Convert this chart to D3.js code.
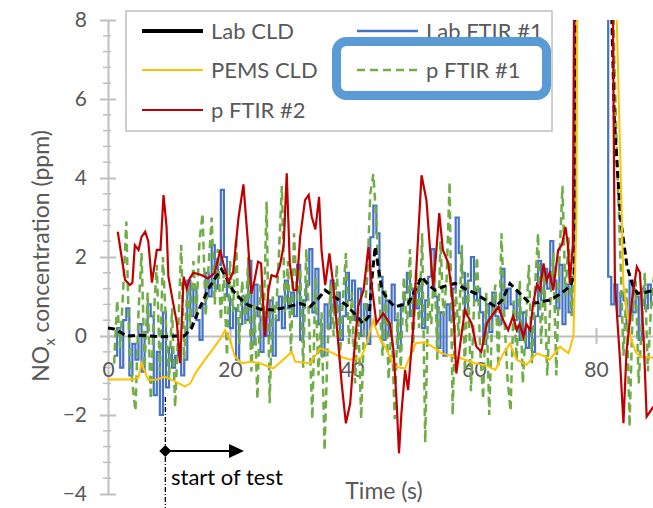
<!DOCTYPE html>
<html><head><meta charset="utf-8">
<script src="https://cdn.jsdelivr.net/npm/d3@7"></script>
<style>
html,body{margin:0;padding:0;background:#fff;}
svg{display:block;font-family:Lato,"Open Sans",sans-serif;}
</style></head>
<body><svg id="c" width="653" height="508"></svg>
<script>
// ---- data ----
const seriesNames = ["Lab CLD", "Lab FTIR #1", "PEMS CLD", "p FTIR #1", "p FTIR #2"];
const xTicks = [0, 20, 40, 60, 80];
const yTicks = [-4, -2, 0, 2, 4, 6, 8];

// Lab CLD (time, value)
const labCldTime = [0,1,2,3,5,7,9,11,12.5,13.7,15,16.5,17.5,18.6,19.5,20.5,21.9,23,25,27.1,29,31.5,33.1,34.5,35.6,37,39.1,40.5,41.8,42.8,43.3,43.8,44.9,46,47,49.2,50.5,51.4,52.5,53.6,55,56.9,58.5,60.2,62,63.5,64.6,65.9,67.5,69.2,70.5,72.4,74,75.7,76.4,76.9,82.2,82.6,83,84,85.1,86,86.8,88,89.5];
const labCldValues = [0.2,0.18,0.1,0.0,0.02,0.0,-0.02,0.0,0.0,0.2,0.7,1.2,1.45,1.69,1.45,1.15,0.91,0.78,0.68,0.66,0.72,0.82,0.74,0.95,1.16,1.0,0.78,0.55,0.32,0.5,1.5,2.26,1.16,0.9,0.74,0.82,1.2,1.5,1.3,1.16,1.25,1.33,1.2,1.08,0.9,0.74,0.91,1.33,1.08,0.82,0.85,0.91,1.05,1.25,1.5,20,20,8,5.5,3.0,1.75,1.3,1.08,1.1,1.16];

// PEMS CLD (time, value)
const pemsTime = [0,2,4,5,5.5,6.6,8,9.3,11,12.6,13.5,14.5,15.9,17.5,18.5,19.2,20,20.8,21.9,23.5,24.9,27.1,29.3,30.1,30.7,33.1,34.8,36.4,38,39.7,41.5,42.4,43.5,43.8,44.5,45.4,47,48.7,50.4,51.9,53.5,54.7,58,60.2,62,63.5,64.8,65.9,67,68.6,70.3,71.4,72.4,74.1,75.5,76.3,76.8,77.2,82.8,83.4,84.5,85.6,86.5,87.2,89.5];
const pemsValues = [-1.1,-1.1,-1.1,-1.05,-0.69,-1.11,-1.1,-1.03,-1.15,-1.28,-1.2,-0.9,-0.6,-0.27,-0.05,0.15,-0.1,-0.52,-0.69,-0.65,-0.69,-0.82,-0.52,-0.4,-0.65,-0.69,-0.31,-0.4,-0.52,-0.6,-0.55,-0.19,0.4,0.24,-0.05,-0.27,-0.78,-0.82,-0.19,-0.15,-0.3,-0.44,-0.57,-0.69,-0.75,-0.86,-0.44,-0.19,-0.6,-0.73,-0.44,-0.5,-0.6,-0.27,-0.44,0.0,3,20,20,8,1.3,0.0,-0.4,-0.52,-0.55];

// p FTIR #2 (time, value)
const ftir2Time = [1.6,2.8,3.6,4.0,4.4,5.0,5.5,6.1,6.6,7.2,8.0,8.6,9.1,9.6,9.9,10.7,11.3,11.8,12.4,12.9,13.4,14.0,15.2,16.4,17.5,18.4,18.9,19.7,20.5,21.4,22.2,23.0,23.5,24.0,24.6,25.1,25.7,26.3,26.8,27.6,28.2,28.8,29.3,29.8,30.4,30.9,31.5,32.3,32.9,33.4,34.0,34.6,35.0,35.6,36.3,36.9,37.8,38.3,39.0,39.7,40.2,41.0,41.9,42.7,43.2,44.0,45.1,46.2,46.8,47.3,47.7,48.1,48.7,49.2,50.0,50.6,51.4,52.2,52.8,53.3,53.8,54.3,54.9,55.8,56.6,57.1,57.9,58.5,59.0,59.6,60.4,61.2,62.1,63.2,64.0,64.8,65.6,66.4,67.0,67.5,68.1,68.6,69.2,69.7,70.3,70.8,71.4,71.9,72.4,73.0,73.8,74.4,75.0,75.4,75.7,76.2,76.8,82.2,83.1,83.9,84.5,85.0,85.9,86.7,87.2,87.8,88.3,89.4];
const ftir2Values = [2.64,1.42,1.29,1.35,2.3,2.18,2.51,2.64,2.4,1.35,2.18,2.18,3.57,2.76,1.5,0.82,0.32,-0.69,1.5,1.2,1.46,1.6,1.55,1.46,1.6,2.18,1.84,1.38,1.6,3.0,3.84,2.25,1.07,1.4,1.88,1.84,-0.02,1.16,1.54,1.5,1.79,2.3,4.12,1.84,1.16,1.16,2.51,3.44,3.57,3.02,2.7,3.52,2.18,1.29,2.09,1.33,-0.27,-1.2,-2.21,-1.71,-0.7,0.74,1.16,2.26,1.33,0.32,0.57,0.32,-0.36,-1.62,-2.97,-1.96,-0.86,-1.37,0.15,1.84,4.07,3.44,2.18,1.25,2.1,3.11,2.18,1.84,0.74,-0.95,-0.02,0.66,0.5,0.32,-0.27,-0.4,0.32,0.57,0.74,0.4,0.15,0.5,0.15,0.3,-0.02,0.3,0.15,0.82,1.3,1.16,1.84,1.4,1.6,1.16,2.18,2.3,2.76,2.3,1.33,2.3,20,20,1.33,-0.52,-2.21,-0.4,0.91,1.75,1.6,-0.02,-2.04,-1.79];

// Lab FTIR #1 and p FTIR #1: one value every 0.5 s from t = 1 s
const ftirStart = 1, ftirStep = 0.5;
const labFtirValues = [-0.5,0.2,-0.8,0.4,0.7,-1.0,-0.2,-0.6,
 0.3,-0.9,0.1,0.8,0.5,-1.5,-0.4,-2.0,0.6,-1.3,
 -0.3,-0.8,-0.5,-0.2,-1.0,-0.6,1.4,0.5,1.2,0.4,
 -0.1,0.8,1.6,1.0,2.3,1.2,1.8,3.7,2.0,1.0,
 0.2,0.7,-0.6,0.3,1.0,0.4,1.9,-0.2,1.3,0.5,
 -0.4,0.6,0.0,0.9,-0.5,0.4,1.0,0.2,1.4,0.7,
 1.1,0.5,1.8,-0.1,0.9,1.3,2.2,0.6,1.7,0.3,
 -0.5,0.8,0.2,1.4,0.6,1.1,-0.1,0.5,1.6,0.9,
 1.4,0.4,1.2,0.0,0.8,-0.2,2.5,3.3,2.6,1.5,
 -0.1,0.9,0.0,1.3,0.4,-0.3,0.8,1.1,1.6,0.5,
 1.2,0.7,1.4,0.2,0.9,1.5,2.2,1.0,-0.3,0.6,
 -0.5,0.8,0.4,1.2,3.0,2.1,1.6,0.6,1.4,2.0,
 0.9,1.2,0.6,-0.2,0.8,0.1,1.1,0.5,0.3,1.7,
 0.7,1.2,0.8,0.4,1.1,-0.1,0.6,-0.3,0.2,-0.4,
 0.5,1.9,0.9,1.7,1.2,2.4,1.4,0.7,1.8,0.3,
 1.3,0.6,1.5,20,20,20,20,20,20,20,
 20,20,20,20,1.5,0.8,1.3,0.5,1.1,0.9,
 0.3,1.4,0.6,1.0,-0.1,1.2,0.7,1.3,0.8,1.0];
const ftir1Values = [-0.7,0.9,-0.3,1.2,2.9,-0.4,-1.2,-1.9,
 0.6,2.1,-0.8,1.1,-1.6,0.5,1.8,-0.9,2.0,0.3,
 -1.1,0.7,-1.8,0.1,2.3,-0.6,1.3,0.2,1.9,0.6,
 2.4,3.1,0.5,1.8,3.0,0.8,2.2,0.4,1.6,-0.5,
 1.9,0.6,2.5,-0.2,1.4,0.3,2.0,-0.9,0.8,-1.6,
 1.3,0.2,3.4,-1.7,1.0,0.4,2.0,3.8,0.6,1.9,
 -0.4,2.6,0.9,1.7,-0.8,2.2,0.2,-2.1,1.5,-1.0,
 0.6,-2.9,-0.3,1.3,0.0,1.8,-0.6,0.9,2.1,-0.2,
 1.1,-1.2,0.7,-2.1,0.4,1.5,3.6,4.1,2.9,0.9,
 -0.5,1.2,-1.1,0.3,-2.1,0.6,-0.8,1.5,0.1,2.2,
 -0.4,1.7,0.2,2.6,-2.7,1.0,0.3,1.9,-0.6,2.4,
 0.5,1.4,3.9,-2.0,1.2,0.0,2.3,-0.9,1.6,-1.4,
 0.8,2.0,-0.3,-1.6,1.1,-2.0,0.6,1.3,-0.8,2.6,
 0.4,-1.1,-1.9,0.9,-0.6,1.4,-1.2,0.3,1.8,-0.7,
 1.2,2.6,-0.2,1.6,-1.0,0.8,2.1,-1.0,1.9,3.8,
 1.0,2.5,0.5,1.8,20,20,20,20,20,20,
 20,20,20,20,20,12,7.0,4.2,2.0,-0.5,
 1.2,-2.3,0.6,1.4,-1.2,0.3,1.6,-0.9,0.7,1.5];

// ---- chart ----
const svg = d3.select("#c");
const textCol = "#595959", axisCol = "#bfbfbf";
const FONT = "Lato,'Open Sans',sans-serif";
const x = d3.scaleLinear().domain([0, 90]).range([108, 657]);
const y = d3.scaleLinear().domain([-4, 8]).range([494, 20]);

// y axis
const yAxis = d3.axisLeft(y).tickValues(yTicks).tickSizeOuter(0).tickPadding(0);
const gy = svg.append("g").attr("transform", `translate(${x(0)},0)`).call(yAxis);
gy.select(".domain").attr("stroke", axisCol).attr("stroke-width", 2);
gy.selectAll(".tick line").attr("x1", 8).attr("x2", -8).attr("stroke", axisCol).attr("stroke-width", 2);
gy.selectAll(".tick text").attr("x", -21).attr("fill", textCol).style("font-size", "21px").style("font-family", FONT);
// minor y ticks
const minor = d3.range(-4, 8.01, 0.4).filter(v => Math.abs(v / 2 - Math.round(v / 2)) > 0.01);
svg.append("g").selectAll("line").data(minor).join("line")
  .attr("x1", x(0) - 5).attr("x2", x(0) + 3)
  .attr("y1", d => y(d)).attr("y2", d => y(d))
  .attr("stroke", axisCol).attr("stroke-width", 1.5);

// x axis at y = 0
const xAxis = d3.axisBottom(x).tickValues(xTicks).tickSizeOuter(0);
const gx = svg.append("g").attr("transform", `translate(0,${y(0)})`).call(xAxis);
gx.select(".domain").attr("stroke", axisCol).attr("stroke-width", 2);
gx.selectAll(".tick line").attr("y1", -8).attr("y2", 8).attr("stroke", axisCol).attr("stroke-width", 2);
gx.selectAll(".tick text").attr("y", 34).attr("dy", "0.35em").attr("fill", textCol).style("font-size", "21px").style("font-family", FONT);

// clip
svg.append("clipPath").attr("id", "clip").append("rect")
  .attr("x", x(0)).attr("y", y(8)).attr("width", 653 - x(0)).attr("height", y(-4) - y(8));
const plot = svg.append("g").attr("clip-path", "url(#clip)");

const pairs = (ts, vs) => ts.map((t, i) => [t, vs[i]]);
const reg = vs => vs.map((v, i) => [ftirStart + i * ftirStep, v]);
const lineLin = d3.line().x(d => x(d[0])).y(d => y(d[1]));
const lineStep = d3.line().x(d => x(d[0])).y(d => y(d[1])).curve(d3.curveStepAfter);

plot.append("path").datum(reg(labFtirValues)).attr("d", lineStep)
  .attr("fill", "none").attr("stroke", "#4472c4").attr("stroke-width", 2.2);
plot.append("path").datum(reg(ftir1Values)).attr("d", lineLin)
  .attr("fill", "none").attr("stroke", "#70ad47").attr("stroke-width", 2.5).attr("stroke-dasharray", "8,5");
plot.append("path").datum(pairs(labCldTime, labCldValues)).attr("d", lineLin)
  .attr("fill", "none").attr("stroke", "#000").attr("stroke-width", 3).attr("stroke-dasharray", "7,4");
plot.append("path").datum(pairs(pemsTime, pemsValues)).attr("d", lineLin)
  .attr("fill", "none").attr("stroke", "#ffc000").attr("stroke-width", 2);
plot.append("path").datum(pairs(ftir2Time, ftir2Values)).attr("d", lineLin)
  .attr("fill", "none").attr("stroke", "#c00000").attr("stroke-width", 2.2);

// axis titles
svg.append("text").attr("x", 384).attr("y", 491).attr("dy", "0.35em").attr("text-anchor", "middle")
  .attr("fill", textCol).style("font-size", "23px").text("Time (s)");
const yt = svg.append("text").attr("transform", "translate(41,256) rotate(-90)").attr("dy", "0.35em")
  .attr("text-anchor", "middle").attr("fill", textCol).style("font-size", "23px");
yt.append("tspan").text("NO");
yt.append("tspan").attr("dy", 6).style("font-size", "15px").text("x");
yt.append("tspan").attr("dy", -6).text(" concentration (ppm)");

// start of test annotation
const tStart = 9.4;
svg.append("line").attr("x1", x(tStart)).attr("x2", x(tStart)).attr("y1", 397).attr("y2", 508)
  .attr("stroke", "#000").attr("stroke-width", 1.3).attr("stroke-dasharray", "5,2,1,2");
svg.append("line").attr("x1", x(tStart)).attr("x2", 232).attr("y1", 451).attr("y2", 451)
  .attr("stroke", "#000").attr("stroke-width", 2);
svg.append("path").attr("d", `M${x(tStart) - 6},451 L${x(tStart)},445 L${x(tStart) + 6},451 L${x(tStart)},457 Z`).attr("fill", "#000");
svg.append("path").attr("d", "M229,444 L244,451 L229,458 Z").attr("fill", "#000");
svg.append("text").attr("x", 171).attr("y", 477).attr("dy", "0.35em").attr("fill", "#000")
  .style("font-size", "22px").text("start of test");

// legend
svg.append("rect").attr("x", 126).attr("y", 11).attr("width", 426).attr("height", 120)
  .attr("fill", "#fff").attr("stroke", "#bfbfbf").attr("stroke-width", 1.5);
const legItems = [
  {name: seriesNames[0], col: "#000", w: 4, dash: null, lx: 142, ly: 31},
  {name: seriesNames[1], col: "#4472c4", w: 2.5, dash: null, lx: 357, ly: 31},
  {name: seriesNames[2], col: "#ffc000", w: 2, dash: null, lx: 142, ly: 70},
  {name: seriesNames[3], col: "#70ad47", w: 2.5, dash: "8,5", lx: 357, ly: 70},
  {name: seriesNames[4], col: "#c00000", w: 2, dash: null, lx: 142, ly: 110}
];
const lg = svg.append("g").selectAll("g").data(legItems).join("g");
lg.append("line").attr("x1", d => d.lx).attr("x2", d => d.lx + 61).attr("y1", d => d.ly).attr("y2", d => d.ly)
  .attr("stroke", d => d.col).attr("stroke-width", d => d.w).attr("stroke-dasharray", d => d.dash);
lg.append("text").attr("x", d => d.lx + 69).attr("y", d => d.ly).attr("dy", "0.35em")
  .attr("fill", textCol).style("font-size", "22px").text(d => d.name);

// highlight box
svg.append("rect").attr("x", 336.5).attr("y", 41.5).attr("width", 210).attr("height", 54)
  .attr("rx", 10).attr("fill", "none").attr("stroke", "#5b9bd5").attr("stroke-width", 9);
</script></body></html>
